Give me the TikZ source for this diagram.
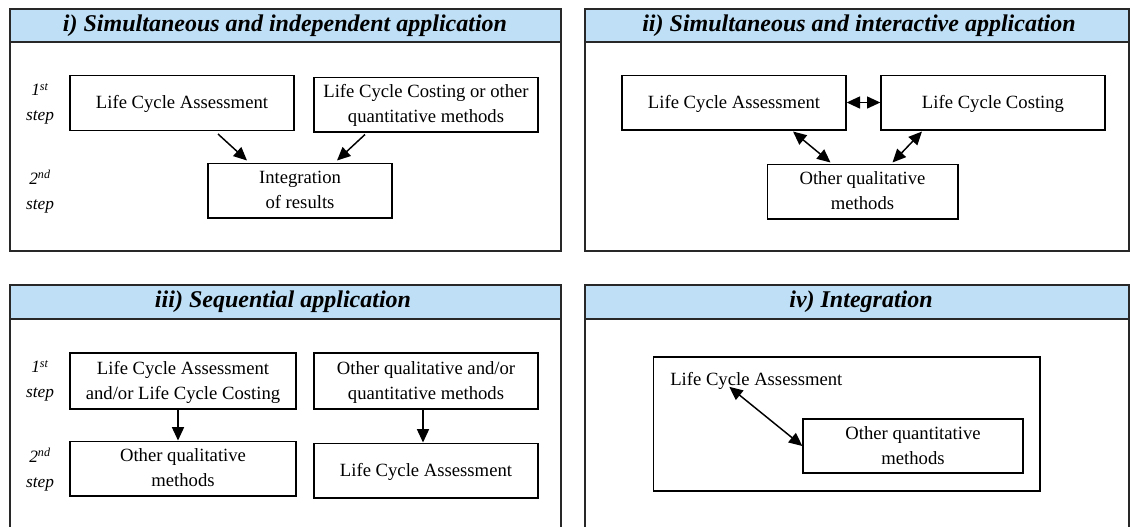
\documentclass[tikz,border=0pt]{standalone}
\usepackage{fontspec}
\setmainfont{Liberation Serif}
\usetikzlibrary{arrows.meta,calc}
\definecolor{titleblue}{RGB}{190,223,245}
\definecolor{framegray}{RGB}{40,40,40}

\begin{document}
\begin{tikzpicture}[x=0.75pt, y=-0.75pt, line join=miter,
    panel/.style={draw=framegray, line width=1.3pt},
    titlebar/.style={draw=framegray, line width=1.3pt, fill=titleblue},
    titletext/.style={font=\fontsize{18}{22}\selectfont\bfseries\itshape, inner sep=0pt},
    methodbox/.style={draw, line width=1pt, align=center, inner sep=2pt, text depth=1pt,
        minimum width=168pt, minimum height=41pt, font=\fontsize{14}{18.75}\selectfont},
    plaintext/.style={inner sep=0pt, font=\fontsize{14}{18.75}\selectfont},
    steplabel/.style={align=center, inner sep=0pt, font=\fontsize{13}{18.75}\selectfont\itshape},
    arr/.style={-{Triangle[length=10pt,width=9pt]}, line width=1.1pt},
    dblarr/.style={{Triangle[length=10pt,width=9pt]}-{Triangle[length=10pt,width=9pt]}, line width=1.1pt}]

    \useasboundingbox (0,0) rectangle (1131,526);
    \clip (0,0) rectangle (1131,526);

    % ------------------------------------------------------------------
    % 1. Panel frames and title bars
    % ------------------------------------------------------------------
    \draw[panel] (10,9) rectangle (561,251);
    \draw[panel] (585,9) rectangle (1129,251);
    \draw[panel] (10,285) rectangle (561,540);
    \draw[panel] (585,285) rectangle (1129,540);

    \draw[titlebar] (10,9) rectangle (561,42);
    \draw[titlebar] (585,9) rectangle (1129,42);
    \draw[titlebar] (10,285) rectangle (561,319);
    \draw[titlebar] (585,285) rectangle (1129,319);

    \node[titletext] (titleA) at (285,26) {i) Simultaneous and independent application};
    \node[titletext] (titleB) at (859,26) {ii) Simultaneous and interactive application};
    \node[titletext] (titleC) at (283,302) {iii) Sequential application};
    \node[titletext] (titleD) at (861,302) {iv) Integration};

    % ------------------------------------------------------------------
    % 2. Panel i: simultaneous and independent
    % ------------------------------------------------------------------
    \node[steplabel] (stepA1) at (40,104) {1\textsuperscript{st}\\step};
    \node[steplabel] (stepA2) at (40,192) {2\textsuperscript{nd}\\step};

    \node[methodbox] (lcaA) at (182,103) {Life Cycle Assessment};
    \node[methodbox] (lccA) at (426,104.5) {Life Cycle Costing or other\\quantitative methods};
    \node[methodbox, minimum width=138pt] (intA) at (300,190.5) {Integration\\of results};

    \draw[arr] ($(lcaA.south)+(36,3)$) -- ($(intA.north)+(-53,-2)$);
    \draw[arr] ($(lccA.south)+(-61,2)$) -- ($(intA.north)+(37,-2)$);

    % ------------------------------------------------------------------
    % 3. Panel ii: simultaneous and interactive
    % ------------------------------------------------------------------
    \node[methodbox] (lcaB) at (734,102.5) {Life Cycle Assessment};
    \node[methodbox] (lccB) at (993,102.5) {Life Cycle Costing};
    \node[methodbox, minimum width=143pt] (oqmB) at (862.5,191.5) {Other qualitative\\methods};

    \draw[dblarr] (lcaB.east) -- (lccB.east -| lccB.west);
    \draw[dblarr] ($(lcaB.south)+(59,1)$) -- ($(oqmB.north)+(-32,-1)$);
    \draw[dblarr] ($(lccB.south)+(-71,1)$) -- ($(oqmB.north)+(30,-1)$);

    % ------------------------------------------------------------------
    % 4. Panel iii: sequential
    % ------------------------------------------------------------------
    \node[steplabel] (stepC1) at (40,381) {1\textsuperscript{st}\\step};
    \node[steplabel] (stepC2) at (40,470) {2\textsuperscript{nd}\\step};

    \node[methodbox, minimum width=169.5pt, minimum height=42pt] (lcaC) at (183,381) {Life Cycle Assessment\\and/or Life Cycle Costing};
    \node[methodbox, minimum height=42pt] (oqqC) at (426,381) {Other qualitative and/or\\quantitative methods};
    \node[methodbox, minimum width=169.5pt] (oqmC) at (183,468.5) {Other qualitative\\methods};
    \node[methodbox] (lcaC2) at (426,470.5) {Life Cycle Assessment};

    \draw[arr] ($(lcaC.south)+(-5,0)$) -- ($(oqmC.north)+(-5,0)$);
    \draw[arr] ($(oqqC.south)+(-3,0)$) -- ($(lcaC2.north)+(-3,0)$);

    % ------------------------------------------------------------------
    % 5. Panel iv: integration
    % ------------------------------------------------------------------
    \node[draw, line width=1pt, minimum width=290pt, minimum height=100.5pt] (intD) at (846.5,424) {};
    \node[plaintext, anchor=west] (lcaD) at (670,381) {Life Cycle Assessment};
    \node[methodbox, minimum width=165pt, minimum height=40.5pt] (oqD) at (913,446) {Other quantitative\\methods};

    \draw[dblarr] ($(lcaD.south)+(-27,-3)$) -- (oqD.west);

\end{tikzpicture}
\end{document}
